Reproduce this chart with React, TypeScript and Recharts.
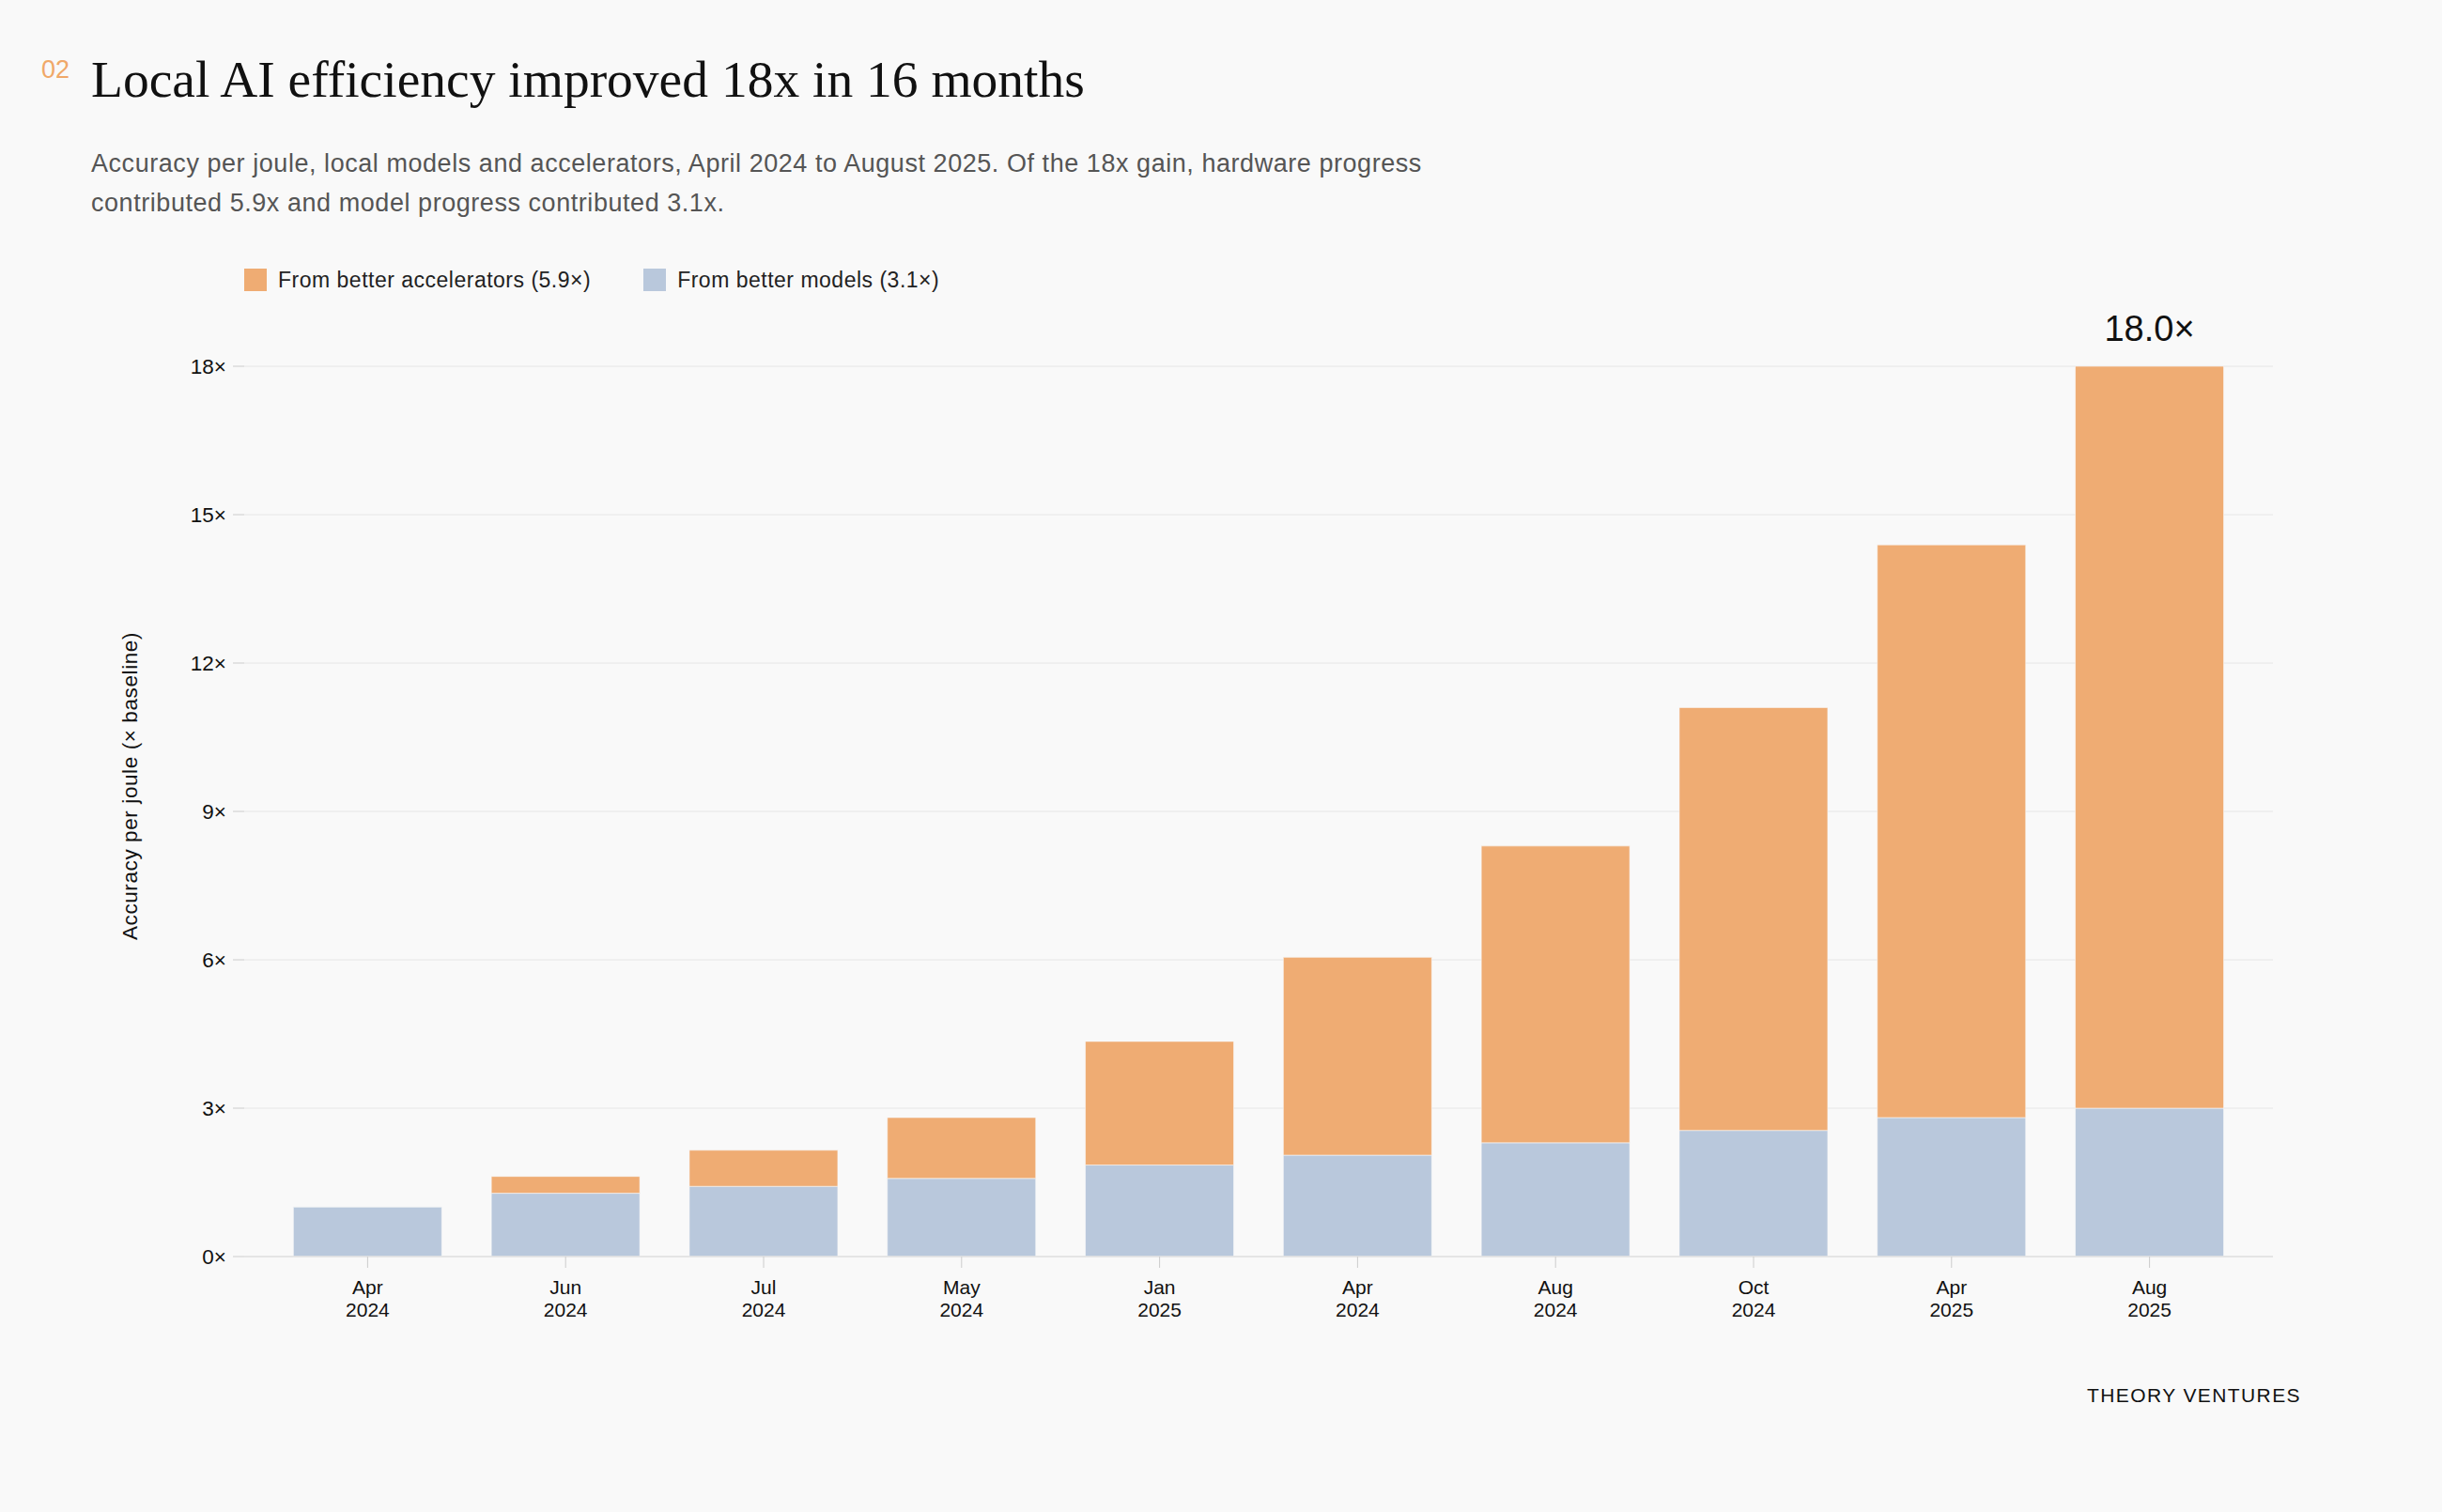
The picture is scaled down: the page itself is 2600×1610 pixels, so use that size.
import React from "react";
import { BarChart, Bar, XAxis, YAxis, CartesianGrid, LabelList } from "recharts";

const months = ["Apr", "Jun", "Jul", "May", "Jan", "Apr", "Aug", "Oct", "Apr", "Aug"];
const years = ["2024", "2024", "2024", "2024", "2025", "2024", "2024", "2024", "2025", "2025"];

// stacked segments, x baseline
const modelGain = [1.0, 1.28, 1.42, 1.58, 1.85, 2.05, 2.3, 2.55, 2.81, 3.0];
const acceleratorGain = [0, 0.34, 0.73, 1.23, 2.5, 4.0, 6.0, 8.55, 11.58, 15.0];

const yTicks = [0, 3, 6, 9, 12, 15, 18];

const ORANGE = "#efac73";
const BLUE = "#b9c8dc";
const BG = "#f9f9f9";
const SANS = "'Liberation Sans', Arial, Helvetica, sans-serif";

const data = months.map((m, i) => ({
  label: `${m} ${years[i]}`,
  models: modelGain[i],
  accelerators: acceleratorGain[i],
  total: modelGain[i] + acceleratorGain[i],
}));
const maxTotal = Math.max(...data.map((d) => d.total));

const legendItems = [
  { color: ORANGE, text: "From better accelerators (5.9×)" },
  { color: BLUE, text: "From better models (3.1×)" },
];

const MonthTick = (props: any) => {
  const { x, y, payload } = props;
  const [m, yr] = String(payload.value).split(" ");
  return (
    <text x={x} y={y} textAnchor="middle" fill="#111" fontSize={21} fontFamily={SANS}>
      <tspan x={x} dy={26}>{m}</tspan>
      <tspan x={x} dy={24}>{yr}</tspan>
    </text>
  );
};

// only the last (tallest) bar carries its total
const TotalLabel = (props: any) => {
  const vb = props.viewBox || {};
  const x = props.x ?? vb.x;
  const y = props.y ?? vb.y;
  const width = props.width ?? vb.width;
  const value = Number(props.value);
  if (Math.abs(value - maxTotal) > 1e-9) return null;
  return (
    <text x={x + width / 2} y={y - 27} textAnchor="middle" fill="#111" fontSize={38} fontFamily={SANS}>
      {`${value.toFixed(1)}×`}
    </text>
  );
};

const YLabel = (props: any) => {
  const { viewBox } = props;
  const cx = viewBox.x + 138;
  const cy = viewBox.y + viewBox.height / 2 - 27;
  return (
    <text
      x={cx}
      y={cy}
      textAnchor="middle"
      dominantBaseline="central"
      transform={`rotate(-90, ${cx}, ${cy})`}
      fill="#111"
      fontSize={22.5}
      letterSpacing={0.6}
      fontFamily={SANS}
    >
      Accuracy per joule (× baseline)
    </text>
  );
};

export default function App() {
  return (
    <div style={{ position: "relative", width: 2600, height: 1610, background: BG, fontFamily: SANS, overflow: "hidden" }}>
      <style>{`body{margin:0;background:${BG}}`}</style>

      <div style={{ position: "absolute", left: 44, top: 61, fontSize: 27, lineHeight: 1, color: "#f0a868" }}>02</div>
      <div
        style={{
          position: "absolute",
          left: 97,
          top: 57,
          fontSize: 55.5,
          lineHeight: 1,
          color: "#111",
          fontFamily: "'Liberation Serif', 'Times New Roman', serif",
          whiteSpace: "nowrap",
        }}
      >
        Local AI efficiency improved 18x in 16 months
      </div>
      <div
        style={{
          position: "absolute",
          left: 97,
          top: 153,
          fontSize: 27,
          lineHeight: "42px",
          letterSpacing: 0.55,
          color: "#555",
          whiteSpace: "nowrap",
        }}
      >
        Accuracy per joule, local models and accelerators, April 2024 to August 2025. Of the 18x gain, hardware progress
        <br />
        contributed 5.9x and model progress contributed 3.1x.
      </div>

      {/* legend */}
      <div style={{ position: "absolute", left: 260, top: 286, height: 24, display: "flex", alignItems: "center" }}>
        {legendItems.map((it) => (
          <div key={it.text} style={{ display: "flex", alignItems: "center", marginRight: 56 }}>
            <span style={{ width: 24, height: 24, background: it.color, display: "inline-block", marginRight: 12 }} />
            <span style={{ fontSize: 23, lineHeight: 1, letterSpacing: 0.5, color: "#222" }}>{it.text}</span>
          </div>
        ))}
      </div>

      <div style={{ position: "absolute", left: 0, top: 0 }}>
        <BarChart
          width={2600}
          height={1450}
          data={data}
          margin={{ top: 390, right: 180, bottom: 32, left: 0 }}
          barCategoryGap="12.5%"
        >
          <CartesianGrid vertical={false} stroke="#e6e6e6" strokeWidth={1} />
          <XAxis
            dataKey="label"
            height={80}
            padding={{ left: 26, right: 26 }}
            tick={<MonthTick />}
            tickSize={12}
            tickLine={{ stroke: "#cccccc" }}
            axisLine={{ stroke: "#e2e2e2", strokeWidth: 1.5 }}
            interval={0}
          />
          <YAxis
            width={260}
            domain={[0, 18]}
            ticks={yTicks}
            tickFormatter={(v: number) => `${v}×`}
            tick={{ fill: "#111", fontSize: 22.5, fontFamily: SANS }}
            tickSize={12}
            tickMargin={7}
            tickLine={{ stroke: "#cccccc" }}
            axisLine={false}
            label={<YLabel />}
          />
          <Bar dataKey="models" stackId="g" fill={BLUE} stroke={BG} strokeWidth={0.6} isAnimationActive={false} />
          <Bar dataKey="accelerators" stackId="g" fill={ORANGE} stroke={BG} strokeWidth={0.6} isAnimationActive={false}>
            <LabelList dataKey="total" content={<TotalLabel />} />
          </Bar>
        </BarChart>
      </div>

      <div
        style={{
          position: "absolute",
          right: 150,
          top: 1475,
          fontSize: 21,
          lineHeight: 1,
          letterSpacing: 1.4,
          color: "#111",
        }}
      >
        THEORY VENTURES
      </div>
    </div>
  );
}
